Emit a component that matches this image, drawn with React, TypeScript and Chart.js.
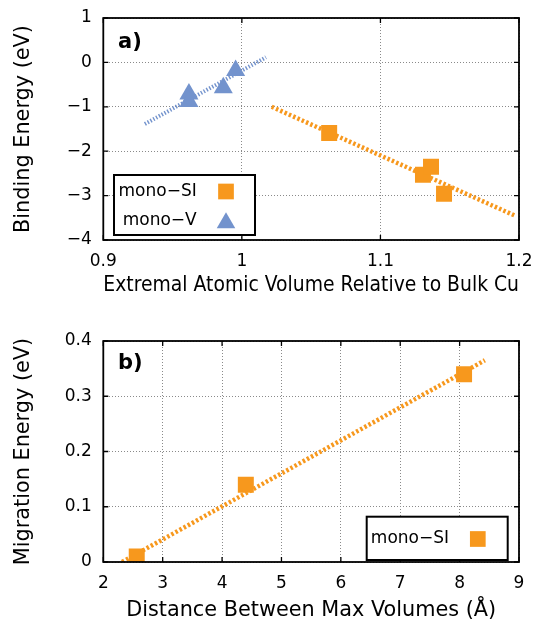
import React, { useEffect, useRef } from 'react';
import { Chart, registerables } from 'chart.js';

Chart.register(...registerables);

// ---------- data: panel a ----------
const siVolume = [1.063, 1.1307, 1.1365, 1.1459];
const siBinding = [-1.59, -2.53, -2.35, -2.96];
const vVolume = [0.9618, 0.9618, 0.9866, 0.9955];
const vBinding = [-0.71, -0.88, -0.57, -0.18];
const siFitVolume = [1.0215, 1.1977];
const siFitBinding = [-1.0, -3.46];
const vFitVolume = [0.93, 1.0174];
const vFitBinding = [-1.387, 0.115];
const xRangeA = [0.9, 1.2];
const yRangeA = [-4, 1];

// ---------- data: panel b ----------
const siDistance = [2.563, 4.4, 8.075];
const siMigration = [0.01, 0.14, 0.34];
const siFitDistance = [2.316, 8.425];
const siFitMigration = [0.0, 0.365];
const xRangeB = [2, 9];
const yRangeB = [0, 0.4];

const labelSI = 'mono\u2212SI';
const labelV = 'mono\u2212V';

const FONT = '"DejaVu Sans", sans-serif';
const ORANGE = '#F7981D';
const BLUE = '#7393CD';

const zip = (xs: number[], ys: number[]) => xs.map((x, i) => ({ x, y: ys[i] }));

const fmt = (v: number) => {
  const r = Math.round(v * 1000) / 1000;
  return String(r).replace('-', '\u2212');
};

const framePlugin = {
  id: 'frame',
  afterDatasetsDraw(chart: any, _a: any, opts: any) {
    const { ctx, chartArea: ca, scales } = chart;
    ctx.save();
    ctx.strokeStyle = '#000';
    ctx.lineWidth = 1.3;
    const tl = 5;
    scales.x.ticks.forEach((t: any) => {
      const px = scales.x.getPixelForValue(t.value);
      ctx.beginPath();
      ctx.moveTo(px, ca.bottom); ctx.lineTo(px, ca.bottom - tl);
      ctx.moveTo(px, ca.top); ctx.lineTo(px, ca.top + tl);
      ctx.stroke();
    });
    scales.y.ticks.forEach((t: any) => {
      const py = scales.y.getPixelForValue(t.value);
      ctx.beginPath();
      ctx.moveTo(ca.left, py); ctx.lineTo(ca.left + tl, py);
      ctx.moveTo(ca.right, py); ctx.lineTo(ca.right - tl, py);
      ctx.stroke();
    });
    ctx.lineWidth = 1.8;
    ctx.strokeRect(ca.left, ca.top, ca.right - ca.left, ca.bottom - ca.top);
    if (opts && opts.panel) {
      ctx.fillStyle = '#000';
      ctx.font = `bold 21px ${FONT}`;
      ctx.textAlign = 'left';
      ctx.textBaseline = 'middle';
      ctx.fillText(opts.panel, opts.px, opts.py);
    }
    ctx.restore();
  },
};

const legendPlugin = {
  id: 'boxLegend',
  afterDraw(chart: any, _a: any, o: any) {
    if (!o || !o.box) return;
    const { ctx } = chart;
    const [bx, by, bw, bh] = o.box;
    ctx.save();
    ctx.fillStyle = '#fff';
    ctx.fillRect(bx, by, bw, bh);
    ctx.strokeStyle = '#000';
    ctx.lineWidth = 2;
    ctx.strokeRect(bx, by, bw, bh);
    const items = chart.data.datasets.filter((d: any) => d.showInLegend);
    items.forEach((d: any, i: number) => {
      const cy = by + o.rows[i];
      ctx.fillStyle = '#000';
      ctx.font = `17px ${FONT}`;
      ctx.textAlign = 'right';
      ctx.textBaseline = 'middle';
      ctx.fillText(d.label, bx + o.textRight[i], cy);
      const cx = bx + o.markerX;
      ctx.fillStyle = d.backgroundColor;
      if (d.pointStyle === 'triangle') {
        const r = 10.7;
        ctx.beginPath();
        ctx.moveTo(cx, cy - r + 2);
        ctx.lineTo(cx - 0.866 * r, cy + r / 2 + 2);
        ctx.lineTo(cx + 0.866 * r, cy + r / 2 + 2);
        ctx.closePath();
        ctx.fill();
      } else {
        const h = 7.85;
        ctx.fillRect(cx - h, cy - h, 2 * h, 2 * h);
      }
    });
    ctx.restore();
  },
};

const tickFont = { family: FONT, size: 17 };
const titleFont = { family: FONT, size: 20.8 };

function axes(xr: number[], xStep: number, yr: number[], yStep: number, xTitle: string, yTitle: string, xH: number, xTitlePad: number, xTickPad: number) {
  const grid = { color: '#8a8a8a', lineWidth: 1, drawTicks: false };
  const border = { display: false, dash: [1, 2] };
  return {
    x: {
      type: 'linear',
      min: xr[0], max: xr[1],
      grid, border,
      ticks: { stepSize: xStep, color: '#000', font: tickFont, padding: xTickPad, maxRotation: 0, autoSkip: false, callback: (v: number) => fmt(v) },
      title: { display: true, text: xTitle, color: '#000', font: titleFont, padding: { top: 0, bottom: xTitlePad } },
      afterFit: (s: any) => { s.height = xH; s.paddingLeft = 0; s.paddingRight = 0; },
    },
    y: {
      type: 'linear',
      min: yr[0], max: yr[1],
      grid, border,
      ticks: { stepSize: yStep, color: '#000', font: tickFont, padding: 11.5, autoSkip: false, callback: (v: number) => fmt(v) },
      title: { display: true, text: yTitle, color: '#000', font: titleFont, padding: { top: 11.5, bottom: 0 } },
      afterFit: (s: any) => { s.width = 103.3; s.paddingTop = 0; s.paddingBottom = 0; },
    },
  };
}

function useChart(ref: React.RefObject<HTMLCanvasElement | null>, make: () => any) {
  useEffect(() => {
    if (!ref.current) return;
    const chart = new Chart(ref.current, make());
    return () => chart.destroy();
  }, []);
}

export default function App() {
  const refA = useRef<HTMLCanvasElement>(null);
  const refB = useRef<HTMLCanvasElement>(null);

  useChart(refA, () => ({
    type: 'scatter',
    data: {
      datasets: [
        { label: labelSI, showInLegend: true, data: zip(siVolume, siBinding), pointStyle: 'rect', pointRadius: 11.3, backgroundColor: ORANGE, borderWidth: 0 },
        { label: labelV, showInLegend: true, data: zip(vVolume, vBinding), pointStyle: 'triangle', pointRadius: 11, backgroundColor: BLUE, borderWidth: 0 },
        { label: 'SI fit', data: zip(siFitVolume, siFitBinding), showLine: true, pointRadius: 0, borderColor: ORANGE, borderWidth: 4.5, borderDash: [2.5, 2.2] },
        { label: 'V fit', data: zip(vFitVolume, vFitBinding), showLine: true, pointRadius: 0, borderColor: BLUE, borderWidth: 4, borderDash: [1.4, 1.8] },
      ],
    },
    options: {
      responsive: false,
      animation: false,
      devicePixelRatio: 1,
      layout: { padding: { left: 0, right: 17, top: 18, bottom: 0 } },
      scales: axes(xRangeA, 0.1, yRangeA, 1, 'Extremal Atomic Volume Relative to Bulk Cu', 'Binding Energy (eV)', 70, 12, 11.5),
      plugins: {
        legend: { display: false },
        tooltip: { enabled: false },
        frame: { panel: 'a)', px: 118, py: 43 },
        boxLegend: { box: [114, 175, 141, 60], rows: [16.5, 46], textRight: [82.7, 82.7], markerX: 112 },
      },
    },
    plugins: [framePlugin, legendPlugin],
  }));

  useChart(refB, () => ({
    type: 'scatter',
    data: {
      datasets: [
        { label: labelSI, showInLegend: true, data: zip(siDistance, siMigration), pointStyle: 'rect', pointRadius: 11.3, backgroundColor: ORANGE, borderWidth: 0 },
        { label: 'SI fit', data: zip(siFitDistance, siFitMigration), showLine: true, pointRadius: 0, borderColor: ORANGE, borderWidth: 4.5, borderDash: [2.5, 2.2] },
      ],
    },
    options: {
      responsive: false,
      animation: false,
      devicePixelRatio: 1,
      layout: { padding: { left: 0, right: 17, top: 31, bottom: 0 } },
      scales: axes(xRangeB, 1, yRangeB, 0.1, 'Distance Between Max Volumes (\u00C5)', 'Migration Energy (eV)', 61, 0, 11),
      plugins: {
        legend: { display: false },
        tooltip: { enabled: false },
        frame: { panel: 'b)', px: 118, py: 54 },
        boxLegend: { box: [366.7, 206.7, 141, 43.3], rows: [22.3], textRight: [82.3], markerX: 111.1 },
      },
    },
    plugins: [framePlugin, legendPlugin],
  }));

  return (
    <div style={{ position: 'absolute', left: 0, top: 0, width: 536, height: 623, background: '#fff' }}>
      <canvas ref={refA} width={536} height={310} style={{ position: 'absolute', left: 0, top: 0, width: 536, height: 310, display: 'block' }} />
      <canvas ref={refB} width={536} height={313} style={{ position: 'absolute', left: 0, top: 310, width: 536, height: 313, display: 'block' }} />
    </div>
  );
}
